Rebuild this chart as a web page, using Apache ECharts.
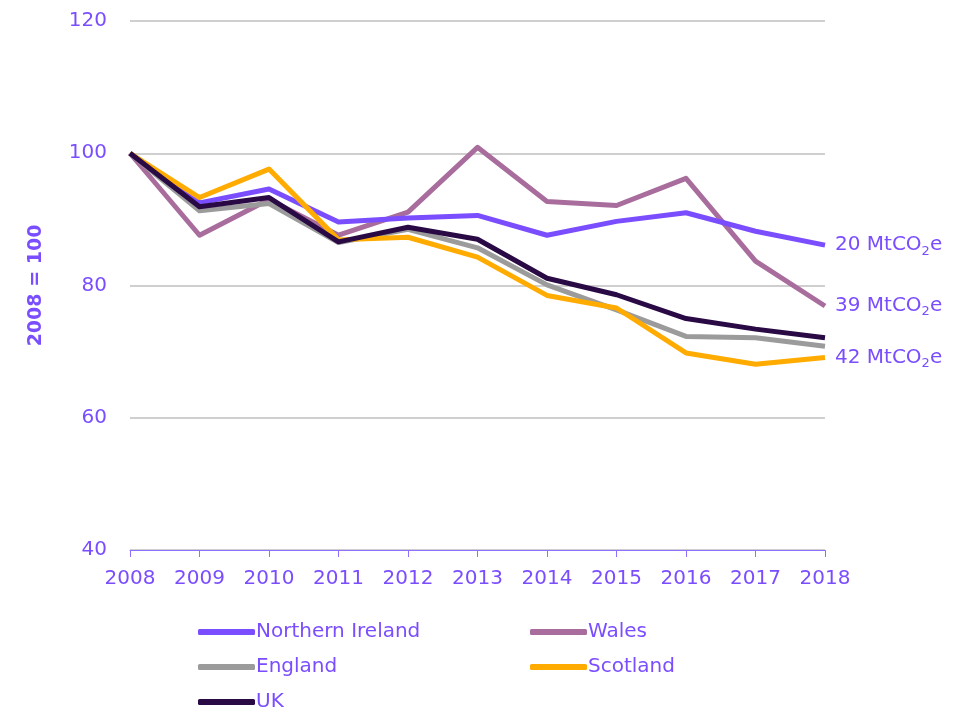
<!DOCTYPE html>
<html>
<head>
<meta charset="utf-8">
<script src="https://cdn.jsdelivr.net/npm/echarts@6/dist/echarts.min.js"></script>
<style>
    html, body { margin: 0; padding: 0; background: #fff; }
    #chart { width: 976px; height: 710px; }
</style>
</head>
<body>
<div id="chart"></div>
<script>
var years = ['2008', '2009', '2010', '2011', '2012', '2013', '2014', '2015', '2016', '2017', '2018'];
var yTicks = [40, 60, 80, 100, 120];

var northernIreland = [100, 92.5, 94.6, 89.6, 90.2, 90.6, 87.6, 89.7, 91.0, 88.2, 86.1];
var wales = [100, 87.6, 93.0, 87.6, 91.1, 100.9, 92.7, 92.1, 96.2, 83.7, 76.9];
var england = [100, 91.3, 92.4, 86.5, 88.5, 85.7, 80.1, 76.3, 72.3, 72.1, 70.8];
var scotland = [100, 93.3, 97.6, 86.9, 87.3, 84.3, 78.5, 76.6, 69.8, 68.1, 69.1];
var uk = [100, 91.9, 93.3, 86.6, 88.8, 87.0, 81.1, 78.6, 75.0, 73.4, 72.1];

// 末端标注
var niLabel = '20';
var walesLabel = '39';
var scotlandLabel = '42';

(function () {
    var purple = '#7a4dff';
    var font = '"DejaVu Sans", sans-serif';
    var myChart = echarts.init(document.getElementById('chart'));

    function endLabel(num) {
        return {
            show: true,
            distance: 10,
            formatter: function () {
                return '{a|' + num + ' MtCO}{s|2}{a|e}';
            },
            rich: {
                a: { color: purple, fontSize: 20, fontFamily: font },
                s: { color: purple, fontSize: 13, fontFamily: font, padding: [12, 0, 0, 0] }
            }
        };
    }

    function line(name, data, color, z, label) {
        var s = {
            name: name,
            type: 'line',
            data: data,
            symbol: 'none',
            z: z,
            lineStyle: { color: color, width: 5, join: 'round' },
            itemStyle: { color: color }
        };
        if (label) s.endLabel = endLabel(label);
        return s;
    }

    // 图例: 每项单独定位
    function legendItem(name, left, top) {
        return {
            data: [name],
            left: left,
            top: top,
            icon: 'roundRect',
            itemWidth: 57,
            itemHeight: 6,
            itemGap: 0,
            textStyle: { color: purple, fontSize: 20, fontFamily: font, padding: [0, 0, 0, -4] }
        };
    }

    var option = {
        animation: false,
        backgroundColor: '#fff',
        grid: { left: 130, right: 151, top: 21, bottom: 160 },
        legend: [
            legendItem('Northern Ireland', 193, 617),
            legendItem('Wales', 525, 617),
            legendItem('England', 193, 652),
            legendItem('Scotland', 525, 652),
            legendItem('UK', 193, 687)
        ],
        xAxis: {
            type: 'category',
            data: years,
            boundaryGap: false,
            axisLine: { lineStyle: { color: '#8f70ff', width: 1 } },
            axisTick: { show: true, length: 7, lineStyle: { color: '#8f70ff' } },
            axisLabel: { color: purple, fontSize: 20, fontFamily: font, margin: 19 }
        },
        yAxis: {
            type: 'value',
            min: yTicks[0],
            max: yTicks[yTicks.length - 1],
            interval: 20,
            name: '2008 = 100',
            nameLocation: 'middle',
            nameGap: 84,
            nameRotate: 90,
            nameTextStyle: { color: purple, fontSize: 19, fontWeight: 'bold', fontFamily: font },
            axisLine: { show: false },
            axisTick: { show: false },
            axisLabel: { color: purple, fontSize: 20, fontFamily: font, margin: 23 },
            splitLine: { lineStyle: { color: '#bfbfbf', width: 1.5 } }
        },
        series: [
            line('Northern Ireland', northernIreland, '#7a4dff', 3, niLabel),
            line('Wales', wales, '#a86d9c', 2, walesLabel),
            line('England', england, '#9b9b9b', 4),
            line('Scotland', scotland, '#ffab00', 5, scotlandLabel),
            line('UK', uk, '#2a0a45', 6)
        ]
    };
    myChart.setOption(option);
    window.addEventListener('resize', function () {
        myChart.resize();
    });
})();
</script>
</body>
</html>
